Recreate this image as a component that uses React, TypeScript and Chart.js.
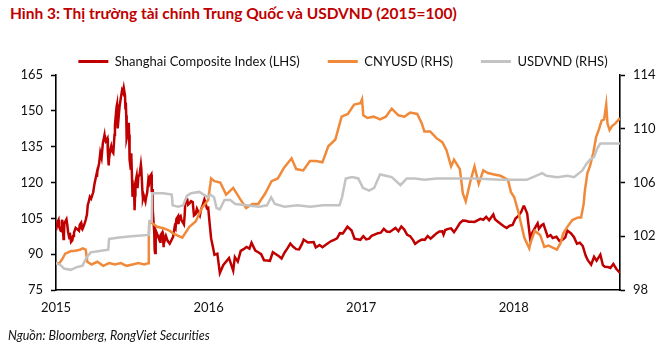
import React, { useEffect, useRef } from "react";
import { Chart, registerables } from "chart.js";
Chart.register(...registerables);

const TITLE = "Hình 3: Thị trường tài chính Trung Quốc và USDVND (2015=100)";
const SOURCE = "Nguồn: Bloomberg, RongViet Securities";
const SERIES_NAMES = ["Shanghai Composite Index (LHS)", "CNYUSD (RHS)", "USDVND (RHS)"];
const SERIES_COLORS = ["#C00000", "#F08A3A", "#C3C3C3"];
const YEAR_TICKS = [2015, 2016, 2017, 2018];
const X_START = "2015-01-01";
const X_END = "2018-09-12";
const LEFT_AXIS = { min: 75, max: 165, step: 15 };
const RIGHT_AXIS = { min: 98, max: 114, step: 4 };

const shDates = [
  "2015-01-01","2015-01-05","2015-01-07","2015-01-08","2015-01-12","2015-01-14","2015-01-15","2015-01-16",
  "2015-01-19","2015-01-20","2015-01-21","2015-01-23","2015-01-26","2015-01-28","2015-01-30","2015-02-02",
  "2015-02-03","2015-02-05","2015-02-06","2015-02-09","2015-02-11","2015-02-13","2015-02-17","2015-02-25",
  "2015-02-27","2015-03-02","2015-03-03","2015-03-05","2015-03-09","2015-03-13","2015-03-16","2015-03-18",
  "2015-03-20","2015-03-23","2015-03-26","2015-03-31","2015-04-03","2015-04-08","2015-04-09","2015-04-10",
  "2015-04-14","2015-04-17","2015-04-20","2015-04-23","2015-04-27","2015-04-28","2015-04-30","2015-05-04",
  "2015-05-05","2015-05-07","2015-05-08","2015-05-11","2015-05-13","2015-05-15","2015-05-18","2015-05-21",
  "2015-05-22","2015-05-26","2015-05-27","2015-05-28","2015-05-29","2015-06-02","2015-06-05","2015-06-08",
  "2015-06-10","2015-06-12","2015-06-15","2015-06-16","2015-06-17","2015-06-18","2015-06-19","2015-06-23",
  "2015-06-24","2015-06-25","2015-06-26","2015-06-29","2015-06-30","2015-07-02","2015-07-03","2015-07-06",
  "2015-07-07","2015-07-08","2015-07-09","2015-07-10","2015-07-13","2015-07-15","2015-07-17","2015-07-20",
  "2015-07-23","2015-07-24","2015-07-27","2015-07-28","2015-07-30","2015-08-03","2015-08-05","2015-08-07",
  "2015-08-10","2015-08-12","2015-08-14","2015-08-17","2015-08-18","2015-08-19","2015-08-20","2015-08-21",
  "2015-08-24","2015-08-25","2015-08-26","2015-08-27","2015-08-28","2015-09-01","2015-09-07","2015-09-08",
  "2015-09-11","2015-09-14","2015-09-15","2015-09-16","2015-09-18","2015-09-21","2015-09-25","2015-09-30",
  "2015-10-08","2015-10-12","2015-10-14","2015-10-16","2015-10-20","2015-10-21","2015-10-23","2015-10-26",
  "2015-10-28","2015-11-03","2015-11-05","2015-11-06","2015-11-09","2015-11-11","2015-11-13","2015-11-17",
  "2015-11-20","2015-11-24","2015-11-27","2015-12-01","2015-12-04","2015-12-08","2015-12-11","2015-12-14",
  "2015-12-18","2015-12-22","2015-12-28","2015-12-31",
  "2016-01-04","2016-01-07","2016-01-11","2016-01-15","2016-01-22","2016-01-28","2016-02-05","2016-02-19",
  "2016-02-29","2016-03-04","2016-03-11","2016-03-18","2016-03-25","2016-04-01","2016-04-08","2016-04-13",
  "2016-04-22","2016-04-29","2016-05-06","2016-05-13","2016-05-20","2016-05-27","2016-06-03","2016-06-17",
  "2016-06-24","2016-07-01","2016-07-08","2016-07-15","2016-07-22","2016-07-29","2016-08-05","2016-08-12",
  "2016-08-16","2016-08-26","2016-09-09","2016-09-14","2016-09-23","2016-09-30","2016-10-14","2016-10-21",
  "2016-10-28","2016-11-04","2016-11-11","2016-11-18","2016-11-29","2016-12-09","2016-12-16","2016-12-23",
  "2016-12-30",
  "2017-01-06","2017-01-13","2017-01-20","2017-01-26","2017-02-10","2017-02-17","2017-02-24","2017-03-03",
  "2017-03-10","2017-03-17","2017-03-24","2017-03-31","2017-04-07","2017-04-14","2017-04-21","2017-04-28",
  "2017-05-05","2017-05-10","2017-05-19","2017-05-26","2017-06-02","2017-06-09","2017-06-16","2017-06-23",
  "2017-06-30","2017-07-07","2017-07-14","2017-07-17","2017-07-21","2017-07-28","2017-08-04","2017-08-11",
  "2017-08-18","2017-08-25","2017-09-01","2017-09-08","2017-09-15","2017-09-22","2017-09-29","2017-10-13",
  "2017-10-20","2017-10-27","2017-11-03","2017-11-13","2017-11-17","2017-11-24","2017-12-01","2017-12-08",
  "2017-12-15","2017-12-22","2017-12-29",
  "2018-01-05","2018-01-12","2018-01-19","2018-01-24","2018-01-26","2018-02-02","2018-02-09","2018-02-14",
  "2018-02-23","2018-02-27","2018-03-02","2018-03-09","2018-03-13","2018-03-16","2018-03-23","2018-03-30",
  "2018-04-04","2018-04-13","2018-04-20","2018-04-27","2018-05-04","2018-05-09","2018-05-18","2018-05-25",
  "2018-06-01","2018-06-08","2018-06-15","2018-06-22","2018-06-27","2018-07-05","2018-07-12","2018-07-18",
  "2018-07-27","2018-08-02","2018-08-07","2018-08-14","2018-08-20","2018-08-27","2018-09-03","2018-09-12",
];
const shValues = [
  100, 103.6, 104.3, 101.8, 99.8, 99.6, 103.1, 104.4,
  96.3, 98.1, 102.7, 103.6, 104.6, 102.2, 99.2, 96.7,
  99.0, 96.9, 95.1, 95.7, 97.6, 99.0, 101.0, 99.8,
  102.3, 103.1, 100.9, 100.4, 102.1, 104.3, 106.6, 110.6,
  111.8, 114.0, 113.2, 115.9, 119.4, 123.5, 122.3, 124.7,
  127.8, 132.5, 130.4, 136.4, 139.9, 138.4, 137.3, 138.5,
  132.9, 127.1, 130.0, 133.9, 135.2, 133.2, 132.4, 140.0,
  144.0, 151.8, 152.7, 142.8, 142.6, 151.8, 155.3, 158.6,
  157.8, 159.7, 156.5, 151.1, 153.5, 148.0, 138.4, 141.5,
  145.0, 140.0, 129.6, 125.3, 132.2, 120.9, 114.0, 116.7,
  115.2, 108.4, 114.7, 119.9, 122.7, 117.6, 122.3, 123.4,
  127.5, 125.8, 115.2, 113.2, 114.5, 112.0, 114.2, 115.7,
  121.4, 120.2, 122.6, 123.4, 115.9, 117.3, 113.3, 108.4,
  99.2, 91.7, 90.5, 95.3, 99.9, 97.9, 95.2, 98.0,
  98.8, 96.3, 92.9, 97.4, 95.7, 97.6, 95.6, 94.4,
  97.2, 101.6, 100.9, 104.8, 105.9, 102.6, 105.5, 106.0,
  104.3, 102.5, 107.0, 111.0, 112.7, 112.8, 110.7, 111.4,
  112.2, 111.8, 106.2, 106.8, 109.0, 107.3, 106.2, 108.8,
  110.6, 112.9, 109.2, 109.4,
  101.9, 96.6, 93.3, 89.7, 90.2, 82.1, 85.4, 88.4,
  83.1, 88.8, 86.9, 91.4, 92.1, 93.0, 92.3, 94.8,
  91.5, 90.8, 90.0, 87.4, 87.3, 87.2, 90.8, 89.2,
  88.2, 90.6, 92.4, 94.4, 93.1, 92.1, 92.0, 94.3,
  96.1, 94.9, 95.1, 92.8, 93.8, 92.9, 94.7, 95.5,
  96.0, 96.6, 98.8, 98.7, 101.5, 99.9, 96.5, 96.2,
  96.0,
  97.5, 96.2, 96.5, 97.7, 98.8, 99.0, 100.6, 99.5,
  99.3, 100.1, 101.0, 99.6, 101.6, 100.3, 98.1, 97.5,
  95.9, 94.3, 95.5, 96.1, 96.0, 97.6, 96.5, 97.6,
  98.7, 99.5, 99.6, 98.2, 100.1, 100.6, 100.8, 99.2,
  101.0, 103.0, 104.1, 104.0, 103.6, 103.6, 103.5, 104.8,
  104.4, 105.6, 104.2, 106.6, 104.6, 103.6, 102.6, 101.7,
  101.0, 101.9, 102.2,
  104.9, 106.0, 107.8, 110.0, 110.0, 107.0, 96.7, 98.9,
  101.7, 102.9, 100.6, 102.2, 102.6, 101.0, 97.3, 98.0,
  96.8, 97.3, 95.5, 96.0, 97.0, 99.9, 98.7, 97.1,
  94.4, 94.8, 93.4, 89.3, 87.5, 85.6, 88.9, 87.3,
  89.8, 85.4, 84.7, 84.6, 84.2, 85.9, 83.9, 82.1,
];

const cnyDates = [
  "2015-01-01","2015-01-09","2015-01-16","2015-01-23","2015-01-30","2015-02-06","2015-02-13","2015-02-27",
  "2015-03-06","2015-03-13","2015-03-17","2015-03-27","2015-04-10","2015-04-24","2015-05-08","2015-05-22",
  "2015-06-05","2015-06-19","2015-07-03","2015-07-17","2015-07-31","2015-08-10","2015-08-11","2015-08-12",
  "2015-08-14","2015-08-31","2015-09-15","2015-09-30","2015-10-09","2015-10-30","2015-11-16","2015-12-01",
  "2015-12-16","2015-12-31",
  "2016-01-07","2016-01-15","2016-01-29","2016-02-12","2016-02-29","2016-03-16","2016-03-31","2016-04-15",
  "2016-04-29","2016-05-16","2016-05-31","2016-06-15","2016-06-30","2016-07-18","2016-07-29","2016-08-15",
  "2016-08-31","2016-09-15","2016-09-30","2016-10-14","2016-10-31","2016-11-15","2016-11-30","2016-12-15",
  "2016-12-30",
  "2017-01-03","2017-01-06","2017-01-16","2017-01-31","2017-02-15","2017-03-01","2017-03-15","2017-03-31",
  "2017-04-14","2017-04-28","2017-05-15","2017-05-26","2017-06-01","2017-06-15","2017-06-30","2017-07-14",
  "2017-07-24","2017-08-04","2017-08-11","2017-08-25","2017-09-01","2017-09-08","2017-09-20","2017-09-29",
  "2017-10-09","2017-10-20","2017-10-31","2017-11-15","2017-11-30","2017-12-18","2017-12-25",
  "2018-01-02","2018-01-12","2018-01-26","2018-02-07","2018-02-10","2018-02-20","2018-03-05","2018-03-15",
  "2018-03-25","2018-04-14","2018-04-23","2018-04-29","2018-05-09","2018-05-21","2018-06-04","2018-06-11",
  "2018-06-17","2018-06-20","2018-06-26","2018-07-02","2018-07-10","2018-07-17","2018-07-23","2018-07-30",
  "2018-08-05","2018-08-10","2018-08-13","2018-08-18","2018-08-24","2018-09-01","2018-09-12",
];
const cnyValues = [
  100.0, 100.0, 100.3, 100.7, 100.8, 100.9, 100.9, 101.0,
  101.1, 101.0, 100.1, 99.9, 100.1, 99.8, 100.0, 99.9,
  100.0, 99.8, 99.9, 100.0, 99.9, 100.0, 101.9, 102.9,
  103.1, 102.7, 102.6, 102.4, 102.2, 101.9, 102.7, 103.1,
  104.1, 104.7,
  106.3, 106.1, 106.0, 105.1, 105.6, 104.8, 104.1, 104.4,
  104.4, 105.2, 106.1, 106.3, 107.1, 107.8, 107.0, 106.9,
  107.6, 107.6, 107.5, 108.7, 109.2, 110.9, 111.1, 111.8,
  111.9,
  112.2, 111.0, 110.8, 110.9, 110.7, 110.9, 111.5, 111.0,
  110.9, 111.2, 111.1, 110.4, 109.8, 109.8, 109.3, 109.0,
  108.4, 107.2, 107.7, 107.0, 105.2, 104.6, 106.2, 107.2,
  105.9, 106.9, 106.7, 106.6, 106.5, 106.2, 105.3,
  104.9, 103.8, 101.9, 101.1, 101.5, 102.4, 102.1, 101.2,
  101.3, 101.0, 101.5, 102.2, 102.7, 103.2, 103.4, 103.4,
  104.4, 105.4, 106.7, 107.2, 108.2, 109.4, 109.9, 110.6,
  110.7, 111.8, 110.4, 109.9, 110.2, 110.4, 110.8,
];

const vndDates = [
  "2015-01-01","2015-01-10","2015-01-20","2015-02-05","2015-02-20","2015-03-05","2015-03-15","2015-03-25",
  "2015-04-15","2015-05-06","2015-05-08","2015-06-01","2015-07-01","2015-08-11","2015-08-12","2015-08-18",
  "2015-08-19","2015-09-15","2015-10-05","2015-10-07","2015-10-20","2015-11-01","2015-11-10","2015-11-20",
  "2015-12-10","2015-12-20","2015-12-31",
  "2016-01-05","2016-01-14","2016-01-20","2016-01-28","2016-02-08","2016-02-22","2016-03-05","2016-04-01",
  "2016-05-01","2016-05-20","2016-05-30","2016-06-08","2016-07-01","2016-08-01","2016-09-01","2016-10-01",
  "2016-11-10","2016-11-16","2016-11-25","2016-12-10","2016-12-25",
  "2017-01-05","2017-01-20","2017-02-01","2017-02-15","2017-03-01","2017-03-15","2017-04-05","2017-04-20",
  "2017-05-10","2017-06-01","2017-07-01","2017-08-01","2017-10-01","2017-12-01",
  "2018-01-01","2018-02-01","2018-03-10","2018-03-20","2018-04-15","2018-05-10","2018-05-25","2018-06-14",
  "2018-06-24","2018-07-02","2018-07-12","2018-07-19","2018-07-27","2018-08-15","2018-09-12",
];
const vndValues = [
  100.0, 99.9, 99.6, 99.5, 99.7, 99.8, 100.4, 100.8,
  100.9, 101.0, 101.8, 101.9, 102.0, 102.1, 103.1, 103.1,
  105.2, 105.2, 105.1, 104.3, 104.2, 104.3, 105.0, 105.2,
  105.3, 105.1, 104.9,
  105.1, 104.9, 104.1, 104.0, 104.7, 104.7, 104.4, 104.3,
  104.2, 104.3, 104.9, 104.4, 104.2, 104.3, 104.2, 104.3,
  104.3, 104.9, 106.3, 106.4, 106.3,
  105.6, 105.4, 105.6, 106.6, 106.5, 106.4, 105.8, 106.3,
  106.3, 106.2, 106.3, 106.3, 106.3, 106.2,
  106.2, 106.2, 106.7, 106.5, 106.4, 106.5, 106.4, 106.9,
  107.4, 107.7, 107.9, 108.5, 108.9, 108.9, 108.9,
];

const FONT = "Lato, 'Open Sans', sans-serif";

function toYear(d: string): number {
  const [y, m, day] = d.split("-").map(Number);
  const start = Date.UTC(y, 0, 1);
  const end = Date.UTC(y + 1, 0, 1);
  return y + (Date.UTC(y, m - 1, day) - start) / (end - start);
}

function points(dates: string[], values: number[]) {
  return dates.map((d, i) => ({ x: toYear(d), y: values[i] }));
}

export default function App() {
  const canvasRef = useRef<HTMLCanvasElement | null>(null);

  useEffect(() => {
    if (!canvasRef.current) return;
    Chart.defaults.font.family = FONT;
    const series = [
      { name: SERIES_NAMES[0], data: points(shDates, shValues), axis: "y", order: 3 },
      { name: SERIES_NAMES[1], data: points(cnyDates, cnyValues), axis: "y1", order: 2 },
      { name: SERIES_NAMES[2], data: points(vndDates, vndValues), axis: "y1", order: 1 },
    ];
    const chart = new Chart(canvasRef.current, {
      type: "line",
      data: {
        datasets: series.map((s, i) => ({
          label: s.name,
          data: s.data,
          yAxisID: s.axis,
          order: s.order,
          borderColor: SERIES_COLORS[i],
          backgroundColor: SERIES_COLORS[i],
          borderWidth: 2.5,
          pointRadius: 0,
          tension: 0,
        })),
      },
      options: {
        animation: false,
        responsive: false,
        maintainAspectRatio: false,
        layout: { padding: { top: 27, left: 22, right: 0, bottom: 37 } },
        plugins: {
          tooltip: { enabled: false },
          legend: {
            position: "top",
            align: "center",
            maxHeight: 48,
            labels: {
              boxWidth: 30,
              boxHeight: 3,
              padding: 28,
              color: "#111",
              font: { size: 13, family: FONT },
              generateLabels: (c: any) =>
                Chart.defaults.plugins.legend.labels
                  .generateLabels(c)
                  .sort((a: any, b: any) => a.datasetIndex - b.datasetIndex)
                  .map((l: any) => ({ ...l, lineWidth: 0, fillStyle: l.strokeStyle })),
            },
          },
        },
        scales: {
          x: {
            type: "linear",
            min: toYear(X_START),
            max: toYear(X_END),
            afterBuildTicks: (s: any) => {
              s.ticks = YEAR_TICKS.map((v) => ({ value: v }));
            },
            afterFit: (s: any) => {
              s.height = 30;
            },
            ticks: {
              callback: (v: any) => String(v),
              color: "#111",
              font: { size: 13, family: FONT },
              padding: 10,
              maxRotation: 0,
              autoSkip: false,
            },
            grid: { display: true, drawOnChartArea: false, drawTicks: false },
            border: { color: "#000", width: 1.6 },
          },
          y: {
            position: "left",
            min: LEFT_AXIS.min,
            max: LEFT_AXIS.max,
            afterFit: (s: any) => {
              s.width = 34;
            },
            ticks: { stepSize: LEFT_AXIS.step, color: "#111", font: { size: 13, family: FONT }, padding: 8 },
            grid: { drawOnChartArea: false, tickLength: 5, tickColor: "#000", tickWidth: 1.5 },
            border: { color: "#000", width: 1.6 },
          },
          y1: {
            position: "right",
            min: RIGHT_AXIS.min,
            max: RIGHT_AXIS.max,
            afterFit: (s: any) => {
              s.width = 44;
            },
            ticks: { stepSize: RIGHT_AXIS.step, color: "#111", font: { size: 13, family: FONT }, padding: 8 },
            grid: { drawOnChartArea: false, tickLength: 5, tickColor: "#000", tickWidth: 1.5 },
            border: { color: "#000", width: 1.6 },
          },
        },
      },
    } as any);
    return () => chart.destroy();
  }, []);

  return (
    <div style={{ position: "absolute", left: 0, top: 0, width: 664, height: 357, background: "#fff", overflow: "hidden" }}>
      <div
        style={{
          position: "absolute",
          left: 10,
          top: 4,
          fontFamily: FONT,
          fontWeight: 700,
          fontSize: 15.5,
          color: "#C00000",
          whiteSpace: "nowrap",
        }}
      >
        {TITLE}
      </div>
      <canvas ref={canvasRef} width={664} height={357} style={{ position: "absolute", left: 0, top: 0 }} />
      <div
        style={{
          position: "absolute",
          left: 8,
          top: 328,
          fontFamily: FONT,
          fontStyle: "italic",
          fontSize: 12.5,
          color: "#111",
          whiteSpace: "nowrap",
        }}
      >
        {SOURCE}
      </div>
    </div>
  );
}
